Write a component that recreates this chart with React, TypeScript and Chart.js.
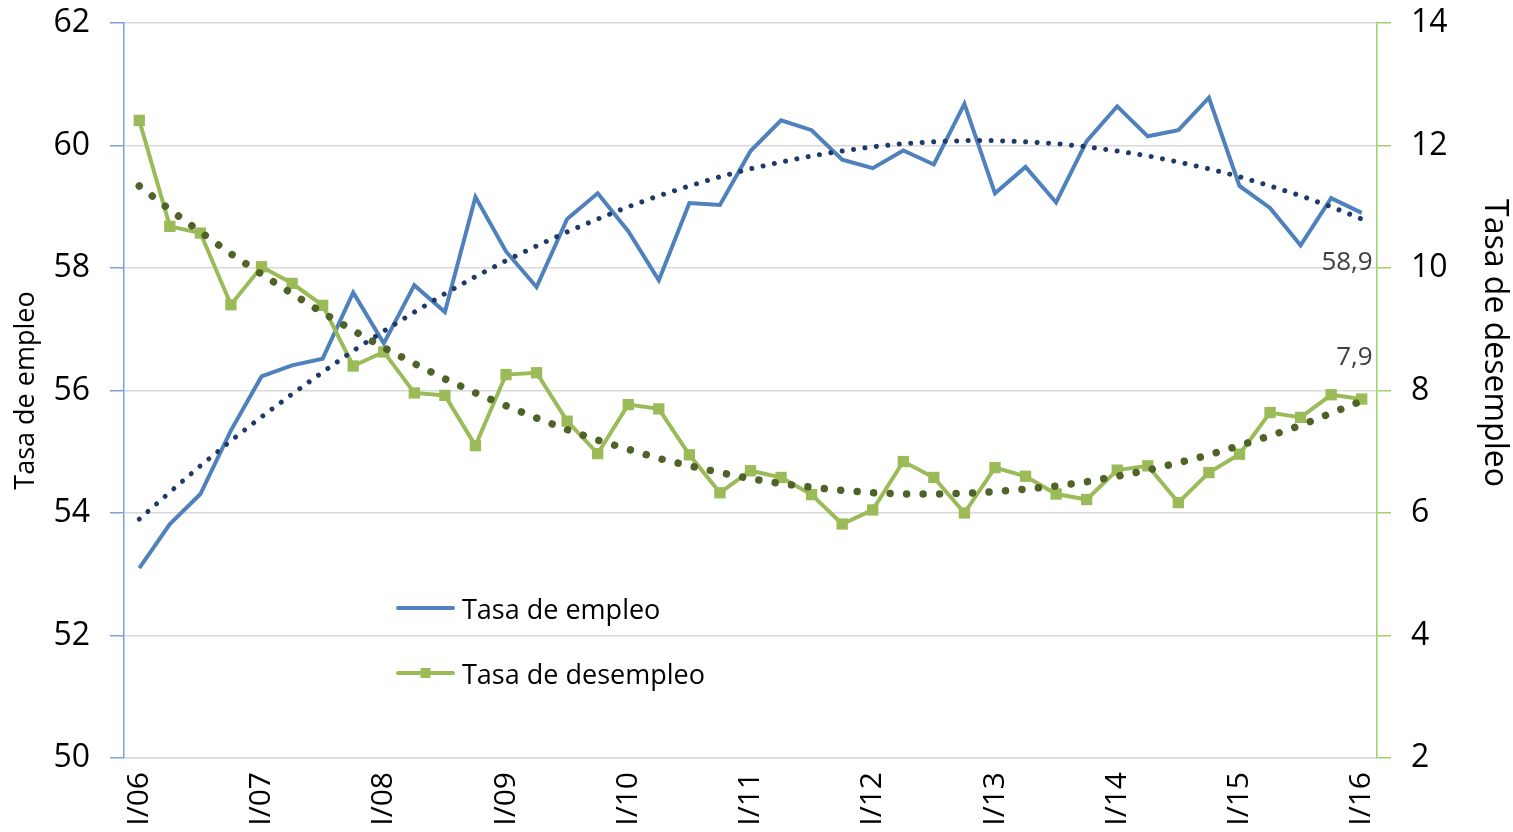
import React, { useEffect, useRef } from "react";
import { Chart, registerables } from "chart.js";

Chart.register(...registerables);

const quarterLabels = [
  "I/06", "II/06", "III/06", "IV/06",
  "I/07", "II/07", "III/07", "IV/07",
  "I/08", "II/08", "III/08", "IV/08",
  "I/09", "II/09", "III/09", "IV/09",
  "I/10", "II/10", "III/10", "IV/10",
  "I/11", "II/11", "III/11", "IV/11",
  "I/12", "II/12", "III/12", "IV/12",
  "I/13", "II/13", "III/13", "IV/13",
  "I/14", "II/14", "III/14", "IV/14",
  "I/15", "II/15", "III/15", "IV/15",
  "I/16",
];

const employmentRate = [
  53.10, 53.82, 54.31, 55.35, 56.23, 56.41, 56.52, 57.60, 56.77, 57.72,
  57.28, 59.16, 58.27, 57.69, 58.80, 59.22, 58.60, 57.80, 59.06, 59.03,
  59.91, 60.41, 60.25, 59.77, 59.63, 59.92, 59.69, 60.68, 59.22, 59.65,
  59.07, 60.07, 60.64, 60.15, 60.25, 60.78, 59.34, 58.98, 58.37, 59.14,
  58.90,
];

const unemploymentRate = [
  12.41, 10.68, 10.57, 9.40, 10.02, 9.75, 9.39, 8.40, 8.63, 7.96,
  7.92, 7.10, 8.26, 8.29, 7.50, 6.97, 7.77, 7.70, 6.95, 6.33,
  6.69, 6.58, 6.30, 5.82, 6.05, 6.84, 6.58, 6.00, 6.74, 6.60,
  6.31, 6.22, 6.70, 6.77, 6.17, 6.66, 6.96, 7.64, 7.56, 7.93,
  7.86,
];

const employmentTrend = [
  53.90, 54.34, 54.77, 55.18, 55.57, 55.94, 56.30, 56.65, 56.97, 57.28,
  57.58, 57.86, 58.12, 58.36, 58.59, 58.80, 59.00, 59.18, 59.34, 59.49,
  59.62, 59.73, 59.83, 59.91, 59.98, 60.03, 60.06, 60.08, 60.08, 60.06,
  60.03, 59.98, 59.91, 59.83, 59.73, 59.62, 59.49, 59.34, 59.18, 59.00,
  58.80,
];

const unemploymentTrend = [
  11.34, 10.95, 10.59, 10.23, 9.90, 9.58, 9.27, 8.98, 8.70, 8.44,
  8.19, 7.96, 7.75, 7.55, 7.36, 7.19, 7.04, 6.89, 6.77, 6.66,
  6.56, 6.48, 6.42, 6.37, 6.33, 6.31, 6.31, 6.32, 6.35, 6.39,
  6.44, 6.51, 6.60, 6.70, 6.82, 6.95, 7.10, 7.26, 7.43, 7.63,
  7.83,
];

const seriesNames = ["Tasa de empleo", "Tasa de desempleo"];
const leftAxisTitle = "Tasa de empleo";
const rightAxisTitle = "Tasa de desempleo";
const leftAxisRange = { min: 50, max: 62, step: 2 };
const rightAxisRange = { min: 2, max: 14, step: 2 };
const labelEvery = 4;

const FONT = "'Open Sans', 'Noto Sans', sans-serif";
const BLUE = "#4F81BD";
const GREEN = "#9BBB59";
const BLUE_TREND = "#1F3A68";
const GREEN_TREND = "#4F6228";
const GRID = "#D9D9D9";
const LEFT_AXIS = "#7BA3D9";
const RIGHT_AXIS = "#9ED26A";

const formatComma = (v: number) => v.toFixed(1).replace(".", ",");

const overlayPlugin = {
  id: "overlay",
  afterDatasetsDraw(chart: any) {
    const ctx = chart.ctx as CanvasRenderingContext2D;
    ctx.save();
    ctx.fillStyle = "#404040";
    ctx.font = `26px ${FONT}`;
    ctx.textAlign = "right";
    ctx.textBaseline = "alphabetic";
    const m0 = chart.getDatasetMeta(2);
    const p0 = m0.data[m0.data.length - 1];
    ctx.fillText(formatComma(employmentRate[employmentRate.length - 1]), p0.x + 11, p0.y + 57);
    const m1 = chart.getDatasetMeta(3);
    const p1 = m1.data[m1.data.length - 1];
    ctx.fillText(formatComma(unemploymentRate[unemploymentRate.length - 1]), p1.x + 11, p1.y - 34);
    ctx.restore();
  },
  afterDraw(chart: any) {
    const ctx = chart.ctx as CanvasRenderingContext2D;
    const a = chart.chartArea;
    ctx.save();
    ctx.fillStyle = "#000000";
    ctx.textAlign = "center";
    ctx.textBaseline = "middle";
    ctx.font = `27px ${FONT}`;
    ctx.save();
    ctx.translate(a.left - 98, (a.top + a.bottom) / 2);
    ctx.rotate(-Math.PI / 2);
    ctx.fillText(leftAxisTitle, 0, 0);
    ctx.restore();
    ctx.font = `32px ${FONT}`;
    ctx.save();
    ctx.translate(a.right + 117, a.top + 320);
    ctx.rotate(Math.PI / 2);
    ctx.fillText(rightAxisTitle, 0, 0);
    ctx.restore();

    // legend
    const lx0 = a.left + 274;
    const lx1 = a.left + 329;
    const tx = a.left + 338;
    const y1 = a.top + 585;
    const y2 = a.top + 650;
    ctx.lineCap = "round";
    ctx.lineWidth = 4;
    ctx.strokeStyle = BLUE;
    ctx.beginPath();
    ctx.moveTo(lx0, y1);
    ctx.lineTo(lx1, y1);
    ctx.stroke();
    ctx.strokeStyle = GREEN;
    ctx.beginPath();
    ctx.moveTo(lx0, y2);
    ctx.lineTo(lx1, y2);
    ctx.stroke();
    ctx.fillStyle = GREEN;
    const mx = (lx0 + lx1) / 2;
    ctx.fillRect(mx - 5, y2 - 5, 10, 10);
    ctx.fillStyle = "#000000";
    ctx.font = `27px ${FONT}`;
    ctx.textAlign = "left";
    ctx.textBaseline = "alphabetic";
    ctx.fillText(seriesNames[0], tx, y1 + 11);
    ctx.fillText(seriesNames[1], tx, y2 + 11);
    ctx.restore();
  },
};

export default function App() {
  const canvasRef = useRef<HTMLCanvasElement | null>(null);

  useEffect(() => {
    const canvas = canvasRef.current;
    if (!canvas) return;
    const chart = new Chart(canvas, {
      type: "line",
      data: {
        labels: quarterLabels,
        datasets: [
          {
            label: "trend-empleo",
            data: employmentTrend,
            yAxisID: "yLeft",
            borderColor: BLUE_TREND,
            borderWidth: 5,
            borderDash: [0.001, 11.5],
            borderCapStyle: "round",
            pointRadius: 0,
            fill: false,
            tension: 0,
            order: 0,
          },
          {
            label: "trend-desempleo",
            data: unemploymentTrend,
            yAxisID: "yRight",
            borderColor: GREEN_TREND,
            borderWidth: 7.5,
            borderDash: [0.001, 16.5],
            borderCapStyle: "round",
            pointRadius: 0,
            fill: false,
            tension: 0,
            order: 1,
          },
          {
            label: seriesNames[0],
            data: employmentRate,
            yAxisID: "yLeft",
            borderColor: BLUE,
            borderWidth: 4,
            pointRadius: 0,
            fill: false,
            tension: 0,
            order: 3,
          },
          {
            label: seriesNames[1],
            data: unemploymentRate,
            yAxisID: "yRight",
            borderColor: GREEN,
            backgroundColor: GREEN,
            borderWidth: 4,
            pointStyle: "rect",
            pointRadius: 8,
            pointBorderWidth: 0,
            pointBackgroundColor: GREEN,
            fill: false,
            tension: 0,
            order: 2,
          },
        ],
      },
      options: {
        responsive: true,
        maintainAspectRatio: false,
        animation: false,
        layout: { padding: { top: 23, left: 0, right: 0, bottom: 0 } },
        plugins: {
          legend: { display: false },
          tooltip: { enabled: false },
        },
        scales: {
          x: {
            type: "category",
            offset: true,
            grid: { display: false, drawTicks: false },
            border: { display: true, color: GRID, width: 1.5 },
            ticks: {
              autoSkip: false,
              minRotation: 90,
              maxRotation: 90,
              padding: 14,
              color: "#000000",
              font: { family: FONT, size: 30 },
              callback: (_v: any, i: number) => (i % labelEvery === 0 ? quarterLabels[i] : ""),
            },
            afterFit: (s: any) => {
              s.height = 74;
              s.paddingLeft = 0;
              s.paddingRight = 0;
            },
          },
          yLeft: {
            type: "linear",
            position: "left",
            min: leftAxisRange.min,
            max: leftAxisRange.max,
            grid: {
              color: GRID,
              lineWidth: 1.5,
              tickColor: LEFT_AXIS,
              tickLength: 14,
              drawTicks: true,
            },
            border: { display: true, color: LEFT_AXIS, width: 1.5 },
            ticks: {
              stepSize: leftAxisRange.step,
              padding: 20,
              color: "#000000",
              font: { family: FONT, size: 32 },
            },
            afterFit: (s: any) => {
              s.width = 124;
              s.paddingTop = 0;
              s.paddingBottom = 0;
            },
          },
          yRight: {
            type: "linear",
            position: "right",
            min: rightAxisRange.min,
            max: rightAxisRange.max,
            grid: {
              drawOnChartArea: false,
              lineWidth: 1.5,
              tickColor: RIGHT_AXIS,
              tickLength: 14,
              drawTicks: true,
            },
            border: { display: true, color: RIGHT_AXIS, width: 1.5 },
            ticks: {
              stepSize: rightAxisRange.step,
              padding: 20,
              color: "#000000",
              font: { family: FONT, size: 32 },
            },
            afterFit: (s: any) => {
              s.width = 136;
              s.paddingTop = 0;
              s.paddingBottom = 0;
            },
          },
        },
      },
      plugins: [overlayPlugin],
    });
    return () => chart.destroy();
  }, []);

  return (
    <div
      style={{
        position: "fixed",
        left: 0,
        top: 0,
        width: 1513,
        height: 832,
        background: "#ffffff",
      }}
    >
      <canvas ref={canvasRef} />
    </div>
  );
}
